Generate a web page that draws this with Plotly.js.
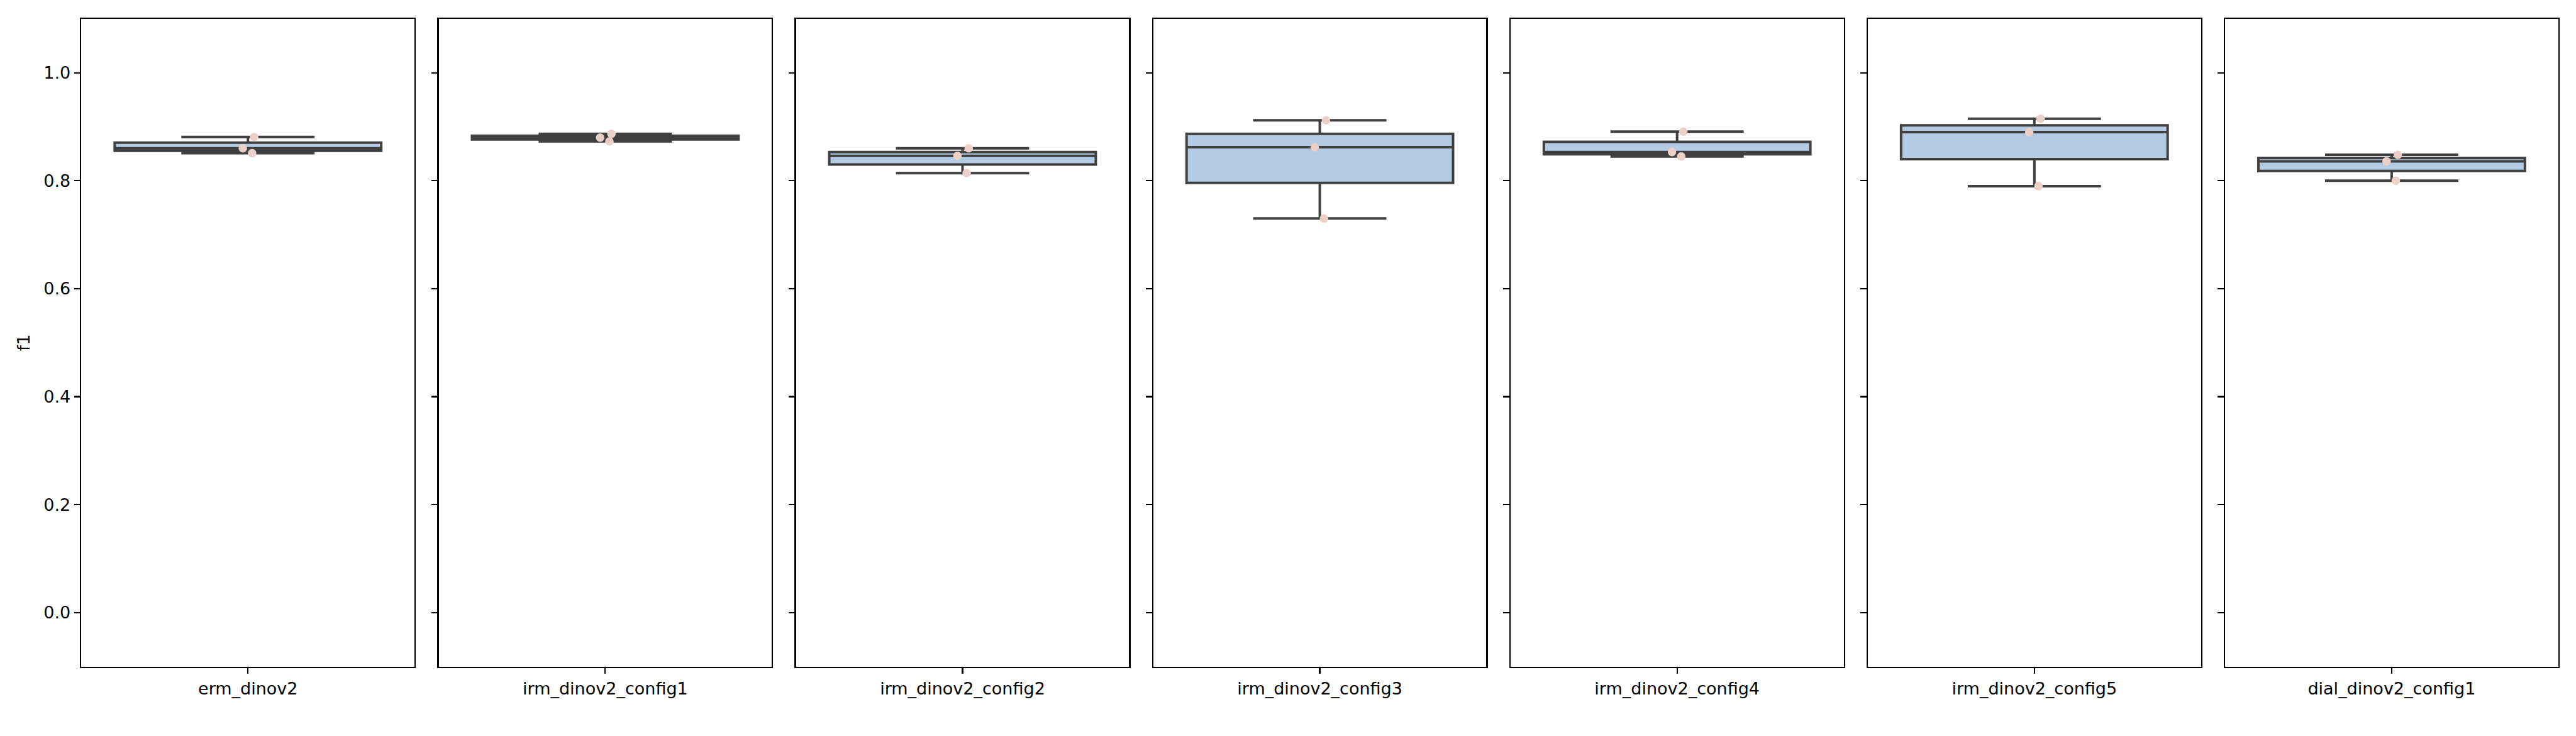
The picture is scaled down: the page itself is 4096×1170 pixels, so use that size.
<!DOCTYPE html>
<html>
<head>
<meta charset="utf-8">
<script src="https://cdn.plot.ly/plotly-3.0.1.min.js"></script>
<style>
  html, body { margin: 0; padding: 0; background: #ffffff; }
  #chart { width: 4096px; height: 1170px; }
</style>
</head>
<body>
<div id="chart"></div>
<script>
// ---- data ----
const categories = [
  "erm_dinov2",
  "irm_dinov2_config1",
  "irm_dinov2_config2",
  "irm_dinov2_config3",
  "irm_dinov2_config4",
  "irm_dinov2_config5",
  "dial_dinov2_config1"
];
const f1_erm_dinov2          = [0.881, 0.860, 0.851];
const f1_irm_dinov2_config1  = [0.887, 0.880, 0.873];
const f1_irm_dinov2_config2  = [0.860, 0.846, 0.814];
const f1_irm_dinov2_config3  = [0.912, 0.862, 0.730];
const f1_irm_dinov2_config4  = [0.891, 0.853, 0.845];
const f1_irm_dinov2_config5  = [0.915, 0.890, 0.790];
const f1_dial_dinov2_config1 = [0.848, 0.836, 0.800];
const seriesValues = [
  f1_erm_dinov2, f1_irm_dinov2_config1, f1_irm_dinov2_config2,
  f1_irm_dinov2_config3, f1_irm_dinov2_config4, f1_irm_dinov2_config5,
  f1_dial_dinov2_config1
];
const yTickValues = [0.0, 0.2, 0.4, 0.6, 0.8, 1.0];
const yAxisLabel = "f1";

// ---- layout geometry (pixels at 0.65 scale) ----
const W = 4096, H = 1170;
const panelLeft0 = 129.4, panelWidth = 529.75, panelGap = 38.35;
const plotTop = 29.9, plotBottom = 1059.5;
const FONT = "DejaVu Sans";
const FS = 27;

const traces = [];
const layout = {
  width: W, height: H,
  margin: {l: 0, r: 0, t: 0, b: 0, pad: 0},
  paper_bgcolor: "#ffffff",
  plot_bgcolor: "#ffffff",
  showlegend: false,
  font: {family: FONT, size: FS, color: "#000000"}
};

categories.forEach((cat, i) => {
  const sfx = i === 0 ? "" : String(i + 1);
  const left = panelLeft0 + i * (panelWidth + panelGap);
  const right = left + panelWidth;
  traces.push({
    type: "box",
    y: seriesValues[i],
    name: cat,
    xaxis: "x" + sfx,
    yaxis: "y" + sfx,
    boxpoints: "all",
    jitter: 0.06,
    pointpos: 0,
    width: 0.8,
    whiskerwidth: 0.5,
    quartilemethod: "inclusive",
    fillcolor: "#b3cbe3",
    line: {color: "#3f3f3f", width: 4},
    marker: {color: "#ebd0c8", size: 13.5, line: {width: 0}},
    showlegend: false,
    hoverinfo: "y"
  });
  layout["xaxis" + sfx] = {
    domain: [left / W, right / W],
    anchor: "y" + sfx,
    type: "category",
    range: [-0.5, 0.5],
    showline: true, mirror: true, linecolor: "#000000", linewidth: 2.2,
    ticks: "outside", ticklen: 9.5, tickwidth: 2.2, tickcolor: "#000000",
    tickfont: {family: FONT, size: FS, color: "#000000"},
    showgrid: false, zeroline: false, fixedrange: true
  };
  layout["yaxis" + sfx] = {
    domain: [1 - plotBottom / H, 1 - plotTop / H],
    anchor: "x" + sfx,
    range: [-0.1, 1.1],
    tickmode: "array",
    tickvals: yTickValues,
    ticktext: yTickValues.map(v => v.toFixed(1)),
    showticklabels: i === 0,
    showline: true, mirror: true, linecolor: "#000000", linewidth: 2.2,
    ticks: "outside", ticklen: 9.5, tickwidth: 2.2, tickcolor: "#000000",
    tickfont: {family: FONT, size: FS, color: "#000000"},
    showgrid: false, zeroline: false, fixedrange: true,
    title: i === 0 ? {text: yAxisLabel, font: {family: FONT, size: FS, color: "#000000"}, standoff: 14} : {text: ""}
  };
});

Plotly.newPlot("chart", traces, layout, {staticPlot: true, displayModeBar: false});
</script>
</body>
</html>
